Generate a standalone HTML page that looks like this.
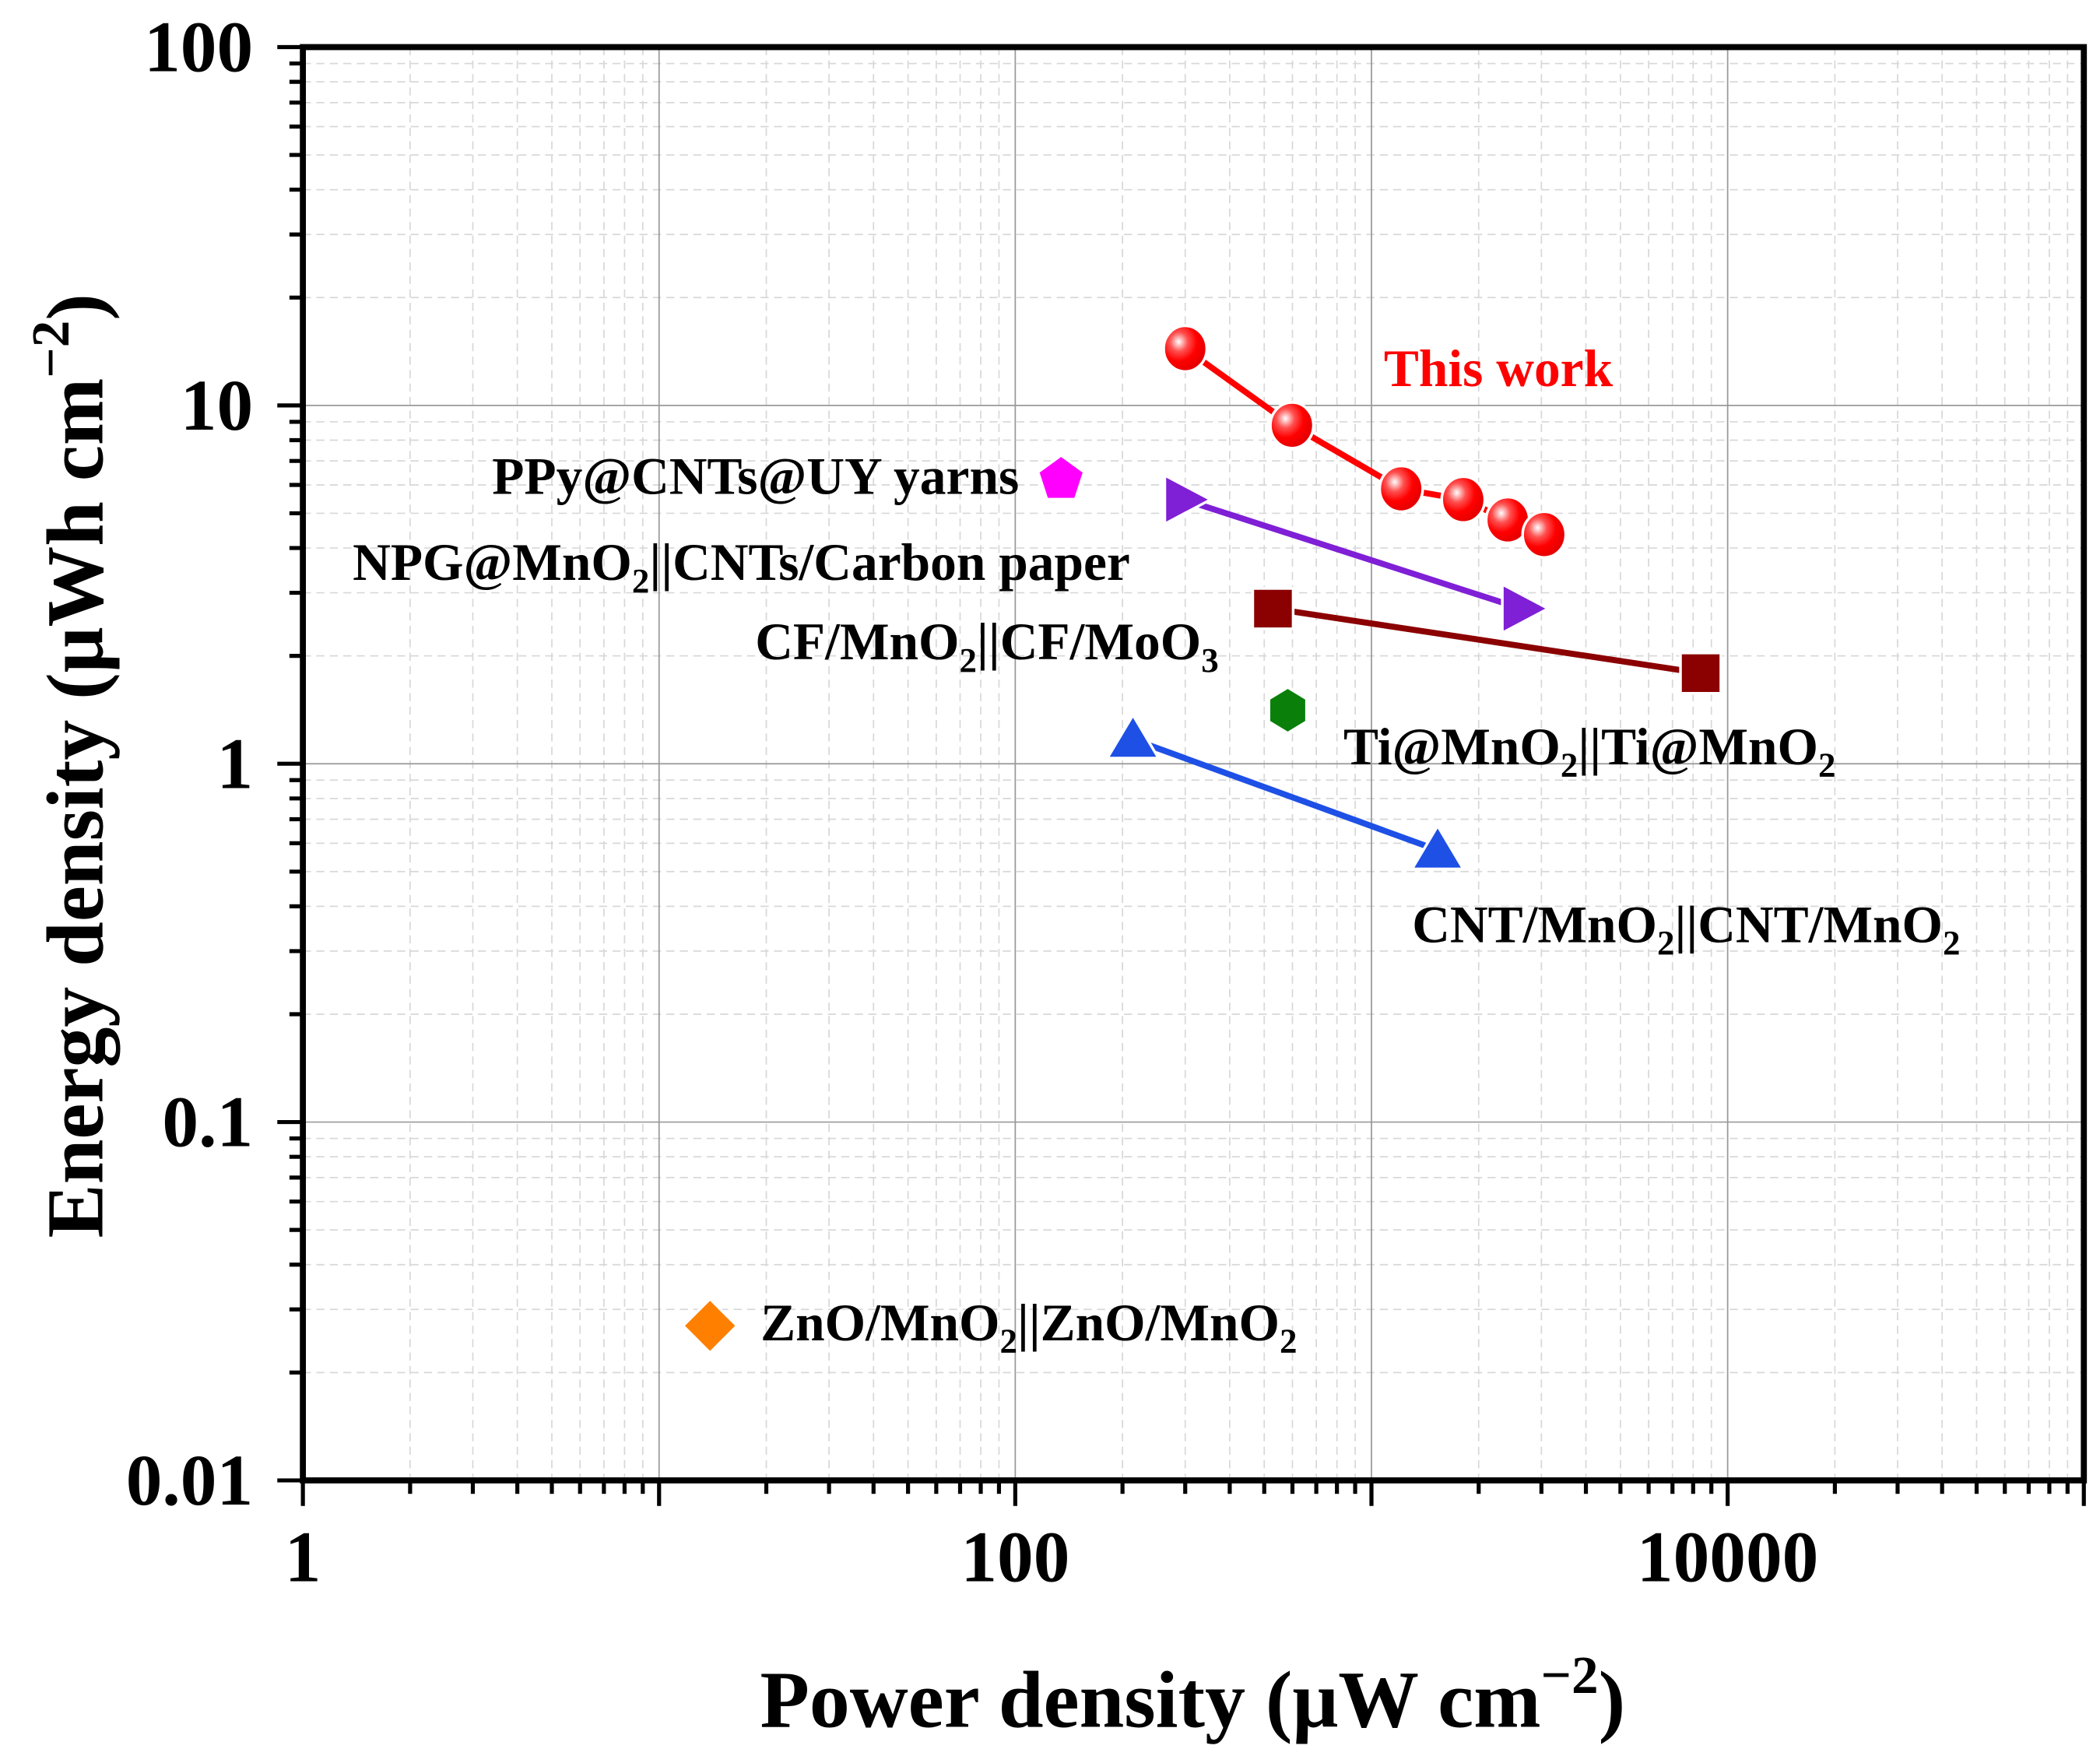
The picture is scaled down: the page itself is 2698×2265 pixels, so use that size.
<!DOCTYPE html>
<html><head><meta charset="utf-8"><style>
html,body{margin:0;padding:0;background:#fff;}
svg{display:block;}
text{font-family:"Liberation Serif",serif;font-weight:bold;}
</style></head><body>
<svg id="chart" width="2698" height="2265" viewBox="0 0 1560 1310" preserveAspectRatio="none" xmlns="http://www.w3.org/2000/svg">
<defs>
<radialGradient id="ballGrad" cx="0.35" cy="0.35" r="0.7">
<stop offset="0" stop-color="#fff"/><stop offset="0.3" stop-color="#ff5050"/><stop offset="0.6" stop-color="#f00"/><stop offset="1" stop-color="#e00000"/>
</radialGradient>
</defs>
<g id="grid"></g>
<g id="series"></g>
<g id="axes"></g>
<g id="labels">
<text x="1028" y="287" font-size="39" fill="#f00">This work</text>
<text x="757" y="367" font-size="39" text-anchor="end">PPy@CNTs@UY yarns</text>
<text x="262" y="431" font-size="39">NPG@MnO<tspan font-size="26" dy="9">2</tspan><tspan dy="-9">||CNTs/Carbon paper</tspan></text>
<text x="561" y="490" font-size="39">CF/MnO<tspan font-size="26" dy="9">2</tspan><tspan dy="-9">||CF/MoO</tspan><tspan font-size="26" dy="9">3</tspan></text>
<text x="998" y="568" font-size="39">Ti@MnO<tspan font-size="26" dy="9">2</tspan><tspan dy="-9">||Ti@MnO</tspan><tspan font-size="26" dy="9">2</tspan></text>
<text x="1049" y="700" font-size="39">CNT/MnO<tspan font-size="26" dy="9">2</tspan><tspan dy="-9">||CNT/MnO</tspan><tspan font-size="26" dy="9">2</tspan></text>
<text x="565" y="996" font-size="39">ZnO/MnO<tspan font-size="26" dy="9">2</tspan><tspan dy="-9">||ZnO/MnO</tspan><tspan font-size="26" dy="9">2</tspan></text>
<text x="886" y="1283" font-size="60" text-anchor="middle">Power density (μW cm<tspan font-size="40" dy="-25">−2</tspan><tspan dy="25">)</tspan></text>
<text transform="translate(76,569) rotate(-90)" font-size="60" text-anchor="middle">Energy density (μWh cm<tspan font-size="40" dy="-25">−2</tspan><tspan dy="25">)</tspan></text>
</g>
</svg>
<script>
const xTicks=[1,100,10000];
const xTickLabels=["1","100","10000"];
const yTicks=[0.01,0.1,1,10,100];
const yTickLabels=["0.01","0.1","1","10","100"];
const thisWorkX=[300,598,1212,1810,2413,3054];
const thisWorkY=[14.4,8.8,5.85,5.46,4.79,4.36];
const npgX=[297,2632];
const npgY=[5.46,2.71];
const cfX=[529,8400];
const cfY=[2.71,1.79];
const tiX=[582];
const tiY=[1.41];
const cntX=[214,1534];
const cntY=[1.17,0.574];
const ppyX=[134.5];
const ppyY=[6.21];
const znoX=[13.9];
const znoY=[0.027];

const L=225,R=1548,T=35,B=1100;
const xMin=0,xMax=5,yMin=-2,yMax=2;
function sx(v){return L+(Math.log10(v)-xMin)/(xMax-xMin)*(R-L);}
function sy(v){return B-(Math.log10(v)-yMin)/(yMax-yMin)*(B-T);}
const NS="http://www.w3.org/2000/svg";
function mk(tag,parent,attrs){const e=document.createElementNS(NS,tag);for(const k in attrs)e.setAttribute(k,attrs[k]);parent.appendChild(e);return e;}
const grid=document.getElementById('grid'),axes=document.getElementById('axes'),ser=document.getElementById('series');

for(let d=0;d<5;d++){for(let m=2;m<=9;m++){const v=Math.pow(10,d)*m;const l=mk('line',grid,{x1:sx(v),x2:sx(v),y1:T,y2:B,stroke:'#d8d8d8','stroke-width':1,'stroke-dasharray':'6,4'});}}
for(let d=-2;d<2;d++){for(let m=2;m<=9;m++){const v=Math.pow(10,d)*m;const l=mk('line',grid,{x1:L,x2:R,y1:sy(v),y2:sy(v),stroke:'#d8d8d8','stroke-width':1,'stroke-dasharray':'6,4'});}}
for(let d=1;d<5;d++){const v=Math.pow(10,d);const l=mk('line',grid,{x1:sx(v),x2:sx(v),y1:T,y2:B,stroke:'#999','stroke-width':1});}
for(let d=-1;d<2;d++){const v=Math.pow(10,d);const l=mk('line',grid,{x1:L,x2:R,y1:sy(v),y2:sy(v),stroke:'#999','stroke-width':1});}

function line(xs,ys,color,name){const p=mk('polyline',ser,{points:xs.map((x,i)=>sx(x)+','+sy(ys[i])).join(' '),fill:'none',stroke:color,'stroke-width':4.5});}
line(thisWorkX,thisWorkY,'#f00','this-work-line');
line(npgX,npgY,'#7f1fd6','npg-line');
line(cfX,cfY,'#8b0000','cf-line');
line(cntX,cntY,'#1e50e6','cnt-line');

for(let i=0;i<thisWorkX.length;i++){const c=mk('ellipse',ser,{cx:sx(thisWorkX[i]),cy:sy(thisWorkY[i]),rx:16,ry:17,fill:'url(#ballGrad)',stroke:'#fff','stroke-width':2});}
function poly(cx,cy,pts,color,name){const p=mk('polygon',ser,{points:pts.map(q=>(cx+q[0])+','+(cy+q[1])).join(' '),fill:color,stroke:'#fff','stroke-width':2});}
for(let i=0;i<npgX.length;i++)poly(sx(npgX[i]),sy(npgY[i]),[[-14,-18],[20,0],[-14,18]],'#7f1fd6','npg-point');
for(let i=0;i<cfX.length;i++)poly(sx(cfX[i]),sy(cfY[i]),[[-15,-15],[15,-15],[15,15],[-15,15]],'#8b0000','cf-point');
for(let i=0;i<tiX.length;i++){const r=17,pts=[];for(let k=0;k<6;k++){const a=Math.PI/2+k*Math.PI/3;pts.push([r*Math.cos(a)*0.95,-r*Math.sin(a)]);}poly(sx(tiX[i]),sy(tiY[i]),pts,'#0a800a','ti-point');}
for(let i=0;i<cntX.length;i++)poly(sx(cntX[i]),sy(cntY[i]),[[0,-18],[19,14],[-19,14]],'#1e50e6','cnt-point');
for(let i=0;i<ppyX.length;i++){const r=18,pts=[];for(let k=0;k<5;k++){const a=Math.PI/2+k*2*Math.PI/5;pts.push([r*Math.cos(a),-r*Math.sin(a)]);}poly(sx(ppyX[i]),sy(ppyY[i]),pts,'#ff00ff','ppy-point');}
for(let i=0;i<znoX.length;i++)poly(sx(znoX[i]),sy(znoY[i]),[[0,-20],[20,0],[0,20],[-20,0]],'#ff8000','zno-point');

const fr=mk('rect',axes,{x:L,y:T,width:R-L,height:B-T,fill:'none',stroke:'#000','stroke-width':4.5});

for(let d=0;d<=5;d++){const v=Math.pow(10,d);const t=mk('line',axes,{x1:sx(v),x2:sx(v),y1:B,y2:B+19,stroke:'#000','stroke-width':3});
 if(d<5)for(let m=2;m<=9;m++){const u=v*m;const t2=mk('line',axes,{x1:sx(u),x2:sx(u),y1:B,y2:B+10,stroke:'#000','stroke-width':3});}}
for(let d=-2;d<=2;d++){const v=Math.pow(10,d);const t=mk('line',axes,{x1:L-19,x2:L,y1:sy(v),y2:sy(v),stroke:'#000','stroke-width':3});
 if(d<2)for(let m=2;m<=9;m++){const u=v*m;const t2=mk('line',axes,{x1:L-10,x2:L,y1:sy(u),y2:sy(u),stroke:'#000','stroke-width':3});}}
for(let i=0;i<xTicks.length;i++){const t=mk('text',axes,{x:sx(xTicks[i]),y:1175,'font-size':54,'text-anchor':'middle'});t.textContent=xTickLabels[i];}
for(let i=0;i<yTicks.length;i++){const t=mk('text',axes,{x:188,y:sy(yTicks[i])+18,'font-size':54,'text-anchor':'end'});t.textContent=yTickLabels[i];}
</script>
</body></html>
